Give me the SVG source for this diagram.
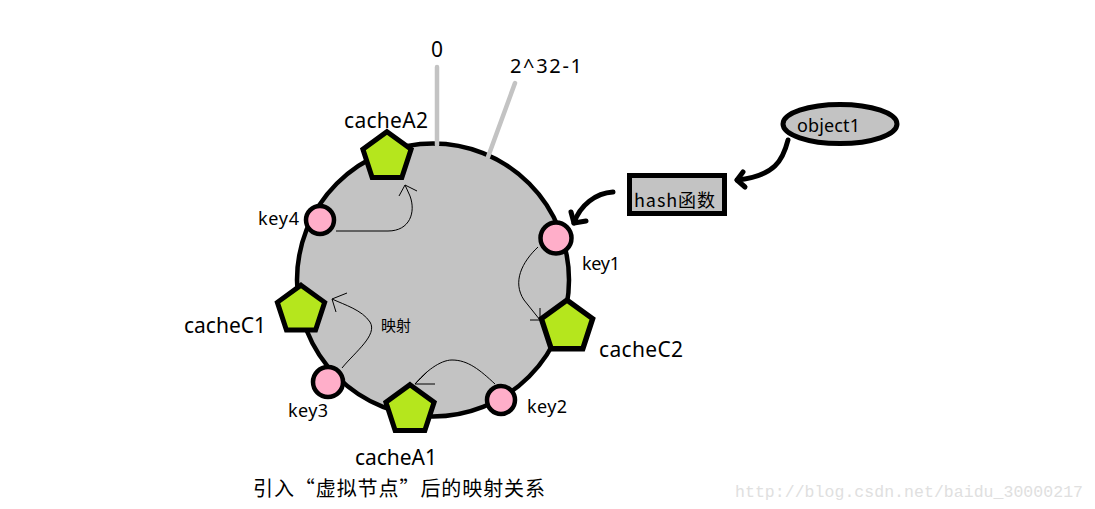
<svg xmlns="http://www.w3.org/2000/svg" width="1095" height="509" viewBox="0 0 1095 509">
<style>
.lbl{font-family:"Noto Sans","Noto Sans CJK SC",sans-serif;fill:#000}
.cjk{font-family:"Noto Sans CJK SC","Noto Sans",sans-serif;fill:#000}
.pent{fill:#b5e61d;stroke:#000;stroke-width:4.6;stroke-linejoin:miter}
.key{fill:#ffaec9;stroke:#000;stroke-width:4.5}
.thin{fill:none;stroke:#000;stroke-width:1}
.thick{fill:none;stroke:#000;stroke-width:5;stroke-linecap:round;stroke-linejoin:round}
.tick{stroke:#c3c3c3;stroke-width:4.5;stroke-linecap:round}
</style>
<defs>
<path id="pent" d="M0,-23 L21.9,-7.1 L13.5,18.6 L-13.5,18.6 L-21.9,-7.1 Z"/>
</defs>
<rect width="1095" height="509" fill="#fff"/>
<g id="ring">
<ellipse cx="433" cy="280" rx="136" ry="136.5" fill="#c3c3c3" stroke="#000" stroke-width="4.5"/>
<line class="tick" x1="437" y1="67" x2="437" y2="145"/>
<line class="tick" x1="515" y1="83" x2="488" y2="157"/>
<text class="lbl" x="437" y="57" font-size="21" text-anchor="middle">0</text>
<text class="lbl" x="510" y="73" font-size="20" textLength="72">2^32-1</text>
</g>
<g id="connectors">
<path class="thin" d="M336,231 L388,231 C410,231 416,212 410,196 L405,185"/>
<path class="thin" d="M399,196 L405,185 L417,191"/>
<path class="thin" d="M538,247 C522,262 512,282 524,300 L540,320"/>
<path class="thin" d="M540,308 L540,320 L530,320"/>
<path class="thin" d="M495,384 C480,370 468,360 452,360 C440,360 425,372 415,384"/>
<path class="thin" d="M435,384 L415,384 L427,372"/>
<path class="thin" d="M342,368 C355,352 378,335 370,322 C362,310 345,305 332,299"/>
<path class="thin" d="M347,293 L332,299 L336,312"/>
<path class="thick" d="M788,140 C783,160 775,176 737,180"/>
<path class="thick" d="M743,172 L737,180 L745,187"/>
<path class="thick" d="M613,192 C596,193 580,205 574,223"/>
<path class="thick" d="M571,212 L574,223 L586,221"/>
</g>
<g id="cacheA2">
<use href="#pent" class="pent" transform="translate(387,157) scale(1.1)"/>
<text class="lbl" x="344" y="128" font-size="21" textLength="84">cacheA2</text>
</g>
<g id="cacheC1">
<use href="#pent" class="pent" transform="translate(301,310) scale(1.08)"/>
<text class="lbl" x="184" y="333" font-size="21" textLength="82">cacheC1</text>
</g>
<g id="cacheC2">
<use href="#pent" class="pent" transform="translate(567,327) scale(1.17)"/>
<text class="lbl" x="599" y="357" font-size="21" textLength="84">cacheC2</text>
</g>
<g id="cacheA1">
<use href="#pent" class="pent" transform="translate(410,410) scale(1.1)"/>
<text class="lbl" x="355" y="465" font-size="21" textLength="82">cacheA1</text>
</g>
<g id="key4">
<circle class="key" cx="320" cy="220" r="14"/>
<text class="lbl" x="258" y="225" font-size="18" textLength="41">key4</text>
</g>
<g id="key1">
<circle class="key" cx="556" cy="238" r="15.5"/>
<text class="lbl" x="582" y="270" font-size="18" textLength="38">key1</text>
</g>
<g id="key2">
<circle class="key" cx="501" cy="400" r="14"/>
<text class="lbl" x="527" y="413" font-size="18" textLength="40">key2</text>
</g>
<g id="key3">
<circle class="key" cx="328" cy="382" r="15"/>
<text class="lbl" x="288" y="417" font-size="18" textLength="40">key3</text>
</g>
<g id="object1">
<ellipse cx="840" cy="124" rx="57" ry="19.5" fill="#c3c3c3" stroke="#000" stroke-width="5"/>
<text class="lbl" x="797" y="132" font-size="18" textLength="63">object1</text>
</g>
<g id="hash">
<rect x="629.5" y="175.5" width="95" height="38" fill="#c3c3c3" stroke="#000" stroke-width="5"/>
<text class="cjk" x="634" y="207" font-size="18" textLength="81">hash函数</text>
</g>
<text class="cjk" x="381" y="331" font-size="15" textLength="30">映射</text>
<text class="cjk" x="253" y="496" font-size="20" textLength="292">引入“虚拟节点”后的映射关系</text>
<text x="735" y="497" font-family="'Liberation Mono',monospace" font-size="16.5" fill="#e0e0e0" textLength="348">http://blog.csdn.net/baidu_30000217</text>
</svg>
